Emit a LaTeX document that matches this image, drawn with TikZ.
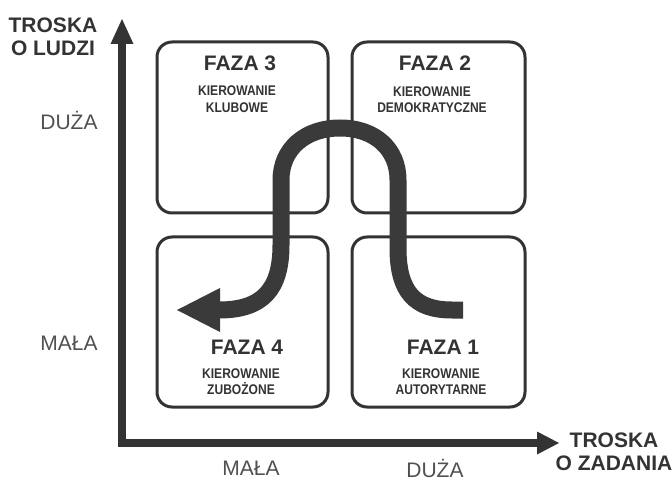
\documentclass[tikz,border=0pt]{standalone}
\usepackage{fontspec}
\setmainfont{Liberation Sans}
\definecolor{ink}{HTML}{333333}
\definecolor{band}{HTML}{3A3A3A}
\definecolor{lbl}{HTML}{505050}
\begin{document}
\begin{tikzpicture}[x=1pt,y=-1pt,
  quad/.style={draw=ink,line width=3pt,rounded corners=15pt},
  axis/.style={draw=ink,line width=8pt},
  head/.style={fill=ink,draw=none},
  bandline/.style={draw=band,line width=17pt,line cap=butt,line join=round},
  bandhead/.style={fill=band,draw=none},
  axtitle/.style={font=\bfseries\fontsize{21}{23}\selectfont,text=ink,align=center,inner sep=0pt},
  level/.style={font=\fontsize{21}{23}\selectfont,text=lbl,inner sep=0pt},
  phase/.style={font=\bfseries\fontsize{21}{23}\selectfont,text=ink,inner sep=0pt},
  kind/.style={font=\bfseries\fontsize{14}{16.5}\selectfont,text=ink,align=center,inner sep=0pt,xscale=0.86}]
\useasboundingbox (0,0) rectangle (672,481);
\fill[white] (0,0) rectangle (672,481);
% quadrants
\draw[quad] (157,42) rectangle (328,213);
\draw[quad] (352,42) rectangle (525,213);
\draw[quad] (157,237) rectangle (328,407);
\draw[quad] (352,237) rectangle (525,407);
% axes
\coordinate (ytip) at (122,19);
\coordinate (xtip) at (559,443);
\coordinate (origin) at (122,443);
\draw[axis,line join=miter] (122,42) -- (origin) -- (538,443);
\fill[head] (ytip) -- (110.5,44) -- (133.5,44) -- cycle;
\fill[head] (xtip) -- (537,431.5) -- (537,454.5) -- cycle;
% band
\draw[bandline] (219,310) .. controls (262,310) and (281,290) .. (281,245)
  -- (281,180) .. controls (281,149) and (305,128) .. (340,128)
  .. controls (375,128) and (398,149) .. (398,180)
  -- (398,248) .. controls (398,292) and (415,310) .. (452,310) -- (463,310);
\coordinate (atip) at (177,310);
\fill[bandhead] (atip) -- (220,288) -- (220,332) -- cycle;
% axis titles
\node[axtitle] (ty) at (53,37) {TROSKA\\O LUDZI};
\node[axtitle] (tx) at (614,452) {TROSKA\\O ZADANIA};
% levels
\node[level] (yhigh) at (69,120) {DUŻA};
\node[level] (ylow) at (69,343) {MAŁA};
\node[level] (xlow) at (251,468) {MAŁA};
\node[level] (xhigh) at (435,468) {DUŻA};
% phases
\node[phase] (f3) at (240,63) {FAZA 3};
\node[kind] (k3) at (237,99) {KIEROWANIE\\KLUBOWE};
\node[phase] (f2) at (435,63) {FAZA 2};
\node[kind] (k2) at (432,99.5) {KIEROWANIE\\DEMOKRATYCZNE};
\node[phase] (f4) at (247,347) {FAZA 4};
\node[kind] (k4) at (241,381.5) {KIEROWANIE\\ZUBOŻONE};
\node[phase] (f1) at (443,347) {FAZA 1};
\node[kind] (k1) at (441,381.5) {KIEROWANIE\\AUTORYTARNE};
\end{tikzpicture}
\end{document}
